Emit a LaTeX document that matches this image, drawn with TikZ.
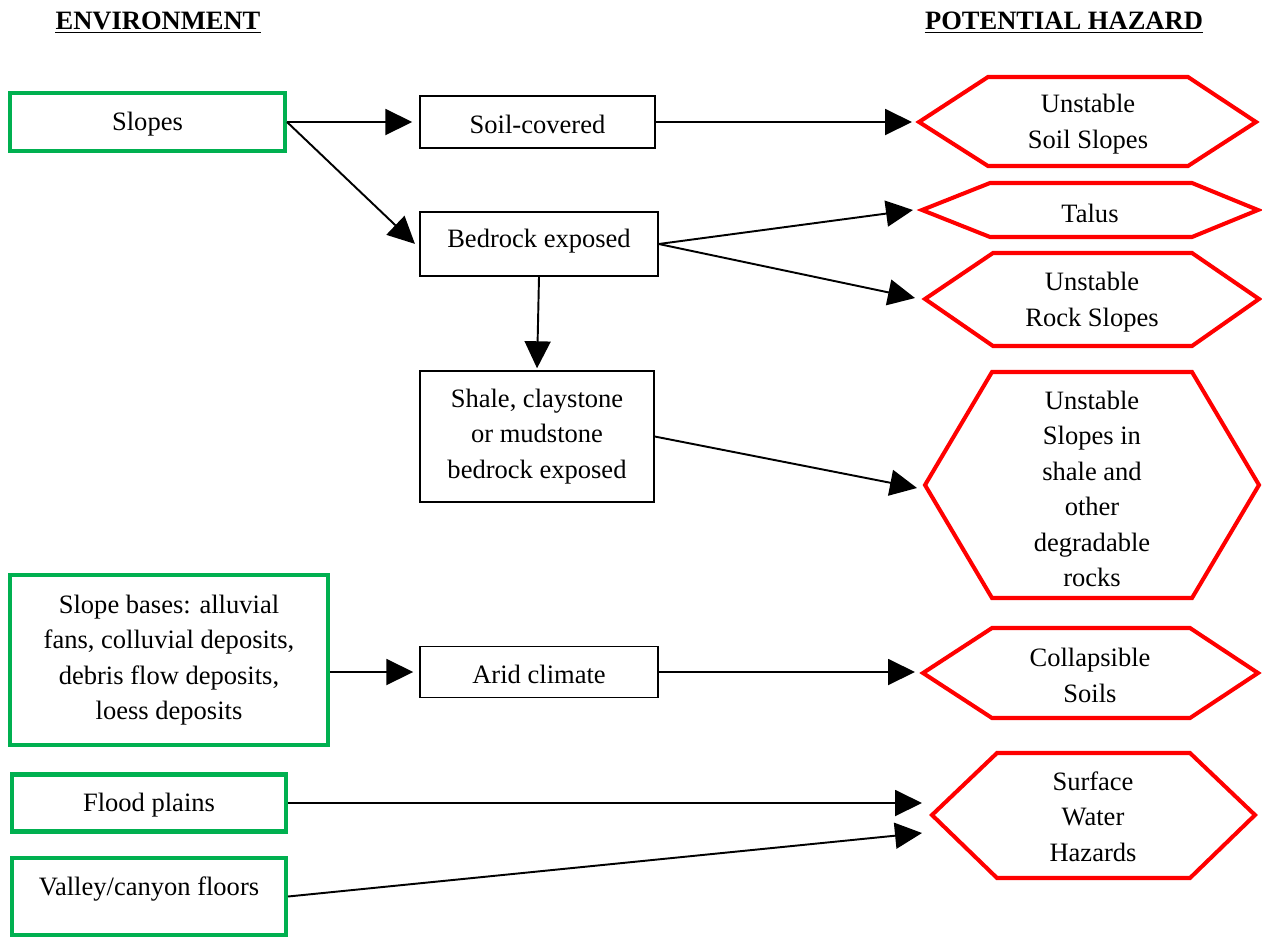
\documentclass[tikz,border=0pt]{standalone}
\usepackage{fontspec}
\setmainfont{Liberation Serif}
\usetikzlibrary{arrows.meta}
\definecolor{envgreen}{RGB}{0,176,80}
\definecolor{hazred}{RGB}{255,0,0}
\newcommand\hexagonpath[7]{\draw[hazline] (#1,#6) -- (#2,#5) -- (#3,#5) -- (#4,#6) -- (#3,#7) -- (#2,#7) -- cycle;}
\begin{document}
\begin{tikzpicture}[x=0.02cm,y=-0.02cm,
  txt/.style={font=\fontsize{15.1}{20.2}\selectfont, align=center, inner sep=0pt},
  head/.style={font=\fontsize{15.1}{20.2}\selectfont\bfseries, inner sep=0pt, anchor=base},
  envbox/.style={txt, draw=envgreen, line width=2.3pt},
  midbox/.style={txt, draw=black, line width=0.85pt},
  hazline/.style={draw=hazred, line width=2.3pt, line join=miter},
  conn/.style={line width=1.1pt, -{Triangle[length=0.54cm,width=0.52cm]}}]
\useasboundingbox (0,0) rectangle (1262,937);

% headings
\node[head] (envhead) at (158,29) {ENVIRONMENT};
\draw[line width=1.1pt] ([yshift=-0.07cm]envhead.base west) -- ([yshift=-0.07cm]envhead.base east);
\node[head] (hazhead) at (1064,29) {POTENTIAL HAZARD};
\draw[line width=1.1pt] ([yshift=-0.07cm]hazhead.base west) -- ([yshift=-0.07cm]hazhead.base east);

% environment boxes
\node[envbox, minimum width=5.5cm, minimum height=1.16cm] (slopes) at (147.5,122) {};
\node[txt] (slopestext) at (147.5,124) {Slopes};
\node[envbox, minimum width=6.36cm, minimum height=3.4cm] (bases) at (169,660)
  {Slope bases: alluvial\\fans, colluvial deposits,\\debris flow deposits,\\loess deposits};
\node[envbox, minimum width=5.48cm, minimum height=1.14cm] (flood) at (149,803) {};
\node[txt] (floodtext) at (149,805) {Flood plains};
\node[envbox, minimum width=5.48cm, minimum height=1.54cm] (valley) at (149,896.5) {};
\node[txt] (valleytext) at (149,889) {Valley/canyon floors};

% middle boxes
\node[midbox, minimum width=4.7cm, minimum height=1.04cm] (soil) at (537.5,122) {};
\node[txt] (soiltext) at (537.5,124) {Soil-covered};
\node[midbox, minimum width=4.76cm, minimum height=1.28cm] (bedrock) at (539,244) {};
\node[txt] (bedrocktext) at (539,241) {Bedrock exposed};
\node[midbox, minimum width=4.68cm, minimum height=2.62cm] (shale) at (537,436.5)
  {Shale, claystone\\or mudstone\\bedrock exposed};
\node[midbox, minimum width=4.76cm, minimum height=1.02cm] (arid) at (539,672) {};
\node[txt] (aridtext) at (539,674) {Arid climate};

% hazard hexagons
\hexagonpath{919}{988}{1188}{1256}{77}{122}{166}
\node[txt] (hsoil) at (1088,124) {Unstable\\Soil Slopes};
\hexagonpath{922}{990}{1192}{1258}{183}{210}{237}
\node[txt] (htalus) at (1090,213) {Talus};
\hexagonpath{925}{993}{1192}{1259}{253}{299}{346}
\node[txt] (hrock) at (1092,302) {Unstable\\Rock Slopes};
\hexagonpath{925}{992}{1192}{1259}{372}{485}{598}
\node[txt] (hbig) at (1092,489) {Unstable\\Slopes in\\shale and\\other\\degradable\\rocks};
\hexagonpath{923}{992}{1190}{1258}{628}{673}{718}
\node[txt] (hcoll) at (1090,675.5) {Collapsible\\Soils};
\hexagonpath{932}{997}{1190}{1255}{753}{815}{878}
\node[txt] (hswh) at (1093,816.5) {Surface\\Water\\Hazards};

% arrow targets at hexagons
\coordinate (hsoilin) at (912,122);
\coordinate (htalusin) at (913,210);
\coordinate (hrockin) at (915,298);
\coordinate (hbigin) at (917,488);
\coordinate (hcollin) at (915,672);
\coordinate (hswhinA) at (922,803);
\coordinate (hswhinB) at (922,833);

% connectors
\draw[conn, shorten >=0.14cm] (slopes.east) -- (soil.west);
\draw[conn, shorten >=0.12cm] (slopes.east) -- ([yshift=-0.08cm]bedrock.west);
\draw[conn] (soil.east) -- (hsoilin);
\draw[conn] (bedrock.east) -- (htalusin);
\draw[conn] (bedrock.east) -- (hrockin);
\draw[conn, shorten >=0.04cm] (bedrock.south) -- (shale.north);
\draw[conn] (shale.east) -- (hbigin);
\draw[conn, shorten >=0.12cm] (bases.east |- arid.west) -- (arid.west);
\draw[conn] (arid.east) -- (hcollin);
\draw[conn] (flood.east) -- (hswhinA);
\draw[conn] (valley.east) -- (hswhinB);
\end{tikzpicture}
\end{document}
